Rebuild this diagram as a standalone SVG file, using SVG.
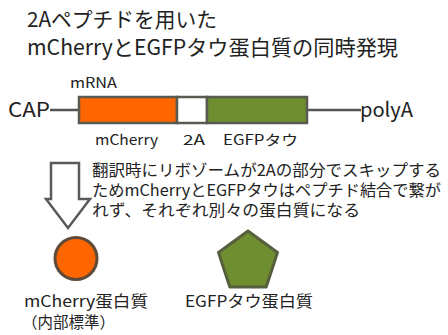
<svg xmlns="http://www.w3.org/2000/svg" width="448" height="335" viewBox="0 0 448 335">
<style>
text{font-family:"Noto Sans CJK JP","Noto Sans",sans-serif;fill:#222;}
.title{font-size:21px;}
.lbl{font-size:14px;}
.end{font-size:20px;}
.para{font-size:16px;}
.cap{font-size:15.5px;}
.seg{stroke:#5a5a50;stroke-width:2.5;}
.line{stroke:#555;stroke-width:2.5;fill:none;}
</style>
<rect width="448" height="335" fill="#fff"/>
<g id="title">
<text class="title" x="27" y="27" textLength="190" lengthAdjust="spacingAndGlyphs">2Aペプチドを用いた</text>
<text class="title" x="27" y="55" textLength="371" lengthAdjust="spacingAndGlyphs">mCherryとEGFPタウ蛋白質の同時発現</text>
</g>
<g id="connectors">
<line class="line" x1="50" y1="110" x2="79" y2="110"/>
<line class="line" x1="307" y1="110" x2="361" y2="110"/>
</g>
<g id="cap"><text class="end" x="8" y="117" textLength="42" lengthAdjust="spacingAndGlyphs">CAP</text></g>
<g id="polyA"><text class="end" x="360" y="117" textLength="53" lengthAdjust="spacingAndGlyphs">polyA</text></g>
<g id="mrna">
<text class="lbl" x="70" y="88" textLength="47" lengthAdjust="spacingAndGlyphs">mRNA</text>
<rect class="seg" x="79" y="97" width="98" height="26" fill="#ff6600"/>
<rect class="seg" x="177" y="97" width="30" height="26" fill="#ffffff"/>
<rect class="seg" x="207" y="97" width="100" height="26" fill="#6f8e30"/>
<text class="lbl" x="95" y="145" font-size="15" textLength="63" lengthAdjust="spacingAndGlyphs">mCherry</text>
<text class="lbl" x="183" y="145" font-size="15" textLength="22" lengthAdjust="spacingAndGlyphs">2A</text>
<text class="lbl" x="223" y="145" font-size="15" textLength="75" lengthAdjust="spacingAndGlyphs">EGFPタウ</text>
</g>
<g id="arrow">
<path d="M51,163 H79 V199 H90 L68,228 L46,199 H51 Z" fill="#fff" stroke="#5a5a5a" stroke-width="2.5" stroke-linejoin="miter"/>
</g>
<g id="note">
<text class="para" x="92" y="176" textLength="349" lengthAdjust="spacingAndGlyphs">翻訳時にリボゾームが2Aの部分でスキップする</text>
<text class="para" x="92" y="196" textLength="349" lengthAdjust="spacingAndGlyphs">ためmCherryとEGFPタウはペプチド結合で繋が</text>
<text class="para" x="92" y="216" textLength="268" lengthAdjust="spacingAndGlyphs">れず、それぞれ別々の蛋白質になる</text>
</g>
<g id="mcherry-protein">
<circle cx="76" cy="258.5" r="21" fill="#ff6600" stroke="#5e4a38" stroke-width="3"/>
<text class="cap" x="24" y="307" textLength="124" lengthAdjust="spacingAndGlyphs">mCherry蛋白質</text>
<text class="cap" x="22" y="328">（内部標準）</text>
</g>
<g id="egfp-protein">
<polygon points="248,231 277.5,252.5 266.2,287 229.8,287 218.5,252.5" fill="#6f8e30" stroke="#56603e" stroke-width="3" stroke-linejoin="round"/>
<text class="cap" x="185" y="307" textLength="128" lengthAdjust="spacingAndGlyphs">EGFPタウ蛋白質</text>
</g>
</svg>
